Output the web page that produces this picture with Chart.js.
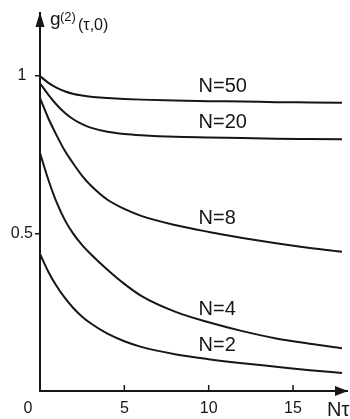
<!DOCTYPE html>
<html>
<head>
<meta charset="utf-8">
<script src="https://cdn.jsdelivr.net/npm/chart.js@4"></script>
<style>
  html, body { margin: 0; padding: 0; background: #fff; }
  #wrap { width: 350px; height: 419px; }
</style>
</head>
<body>
<div id="wrap"><canvas id="g2Chart" width="350" height="419"></canvas></div>
<script>
// N*tau sample points (shared by all curves)
const tauValues = [0, 0.5, 1, 1.5, 2, 2.5, 3, 4, 5, 6, 8, 10, 12, 14, 16, 17.9];

// g2(tau,0), one array per N
const g2N50 = [1.0, 0.978, 0.962, 0.951, 0.943, 0.938, 0.934, 0.930, 0.927, 0.925, 0.922, 0.920, 0.919, 0.917, 0.916, 0.915];
const g2N20 = [0.977, 0.940, 0.908, 0.882, 0.862, 0.847, 0.836, 0.823, 0.816, 0.812, 0.807, 0.805, 0.803, 0.801, 0.800, 0.799];
const g2N8  = [0.93, 0.865, 0.81, 0.76, 0.72, 0.683, 0.653, 0.607, 0.578, 0.556, 0.527, 0.505, 0.486, 0.469, 0.454, 0.442];
const g2N4  = [0.755, 0.67, 0.597, 0.54, 0.497, 0.463, 0.435, 0.385, 0.34, 0.302, 0.252, 0.218, 0.19, 0.167, 0.15, 0.136];
const g2N2  = [0.435, 0.378, 0.332, 0.294, 0.262, 0.236, 0.215, 0.182, 0.158, 0.14, 0.117, 0.101, 0.088, 0.077, 0.066, 0.057];

const seriesLabels = ['N=50', 'N=20', 'N=8', 'N=4', 'N=2'];
const seriesData = [g2N50, g2N20, g2N8, g2N4, g2N2];

// Axis ticks
const xTicks = [0, 5, 10, 15];
const yTicks = [0.5, 1];
const yTickLabels = ['0.5', '1'];

const INK = '#161616';
const FONT = '"Liberation Sans", Arial, sans-serif';

// Draws arrows, inward x ticks, axis titles and curve labels
const decorations = {
  id: 'decorations',
  afterDraw(chart) {
    const { ctx, chartArea, scales: { x, y } } = chart;
    const x0 = x.getPixelForValue(0);
    const y0 = y.getPixelForValue(0);
    ctx.save();
    ctx.fillStyle = INK;
    ctx.strokeStyle = INK;
    ctx.lineWidth = 1.5;

    // arrow heads
    ctx.beginPath();
    ctx.moveTo(x0, chartArea.top - 1);
    ctx.lineTo(x0 - 4.5, chartArea.top + 14);
    ctx.lineTo(x0 + 4.5, chartArea.top + 14);
    ctx.closePath();
    ctx.fill();
    ctx.beginPath();
    ctx.moveTo(chartArea.right + 1, y0);
    ctx.lineTo(chartArea.right - 12, y0 - 5);
    ctx.lineTo(chartArea.right - 12, y0 + 5);
    ctx.closePath();
    ctx.fill();

    // x ticks point up into the plot
    xTicks.filter(v => v > 0).forEach(v => {
      const px = x.getPixelForValue(v);
      ctx.beginPath();
      ctx.moveTo(px, y0);
      ctx.lineTo(px, y0 - 6);
      ctx.stroke();
    });

    // origin label
    ctx.font = `16px ${FONT}`;
    ctx.textAlign = 'center';
    ctx.textBaseline = 'alphabetic';
    ctx.fillText('0', x0 - 12, y0 + 22);

    // x title
    ctx.font = `20px ${FONT}`;
    ctx.textAlign = 'left';
    ctx.fillText('Nτ', chartArea.right - 20, y0 + 25);

    // y title g(2)(τ,0)
    ctx.font = `19px ${FONT}`;
    ctx.fillText('g', x0 + 10, 25);
    ctx.font = `13px ${FONT}`;
    ctx.fillText('(2)', x0 + 20, 21);
    ctx.font = `16px ${FONT}`;
    ctx.fillText('(τ,0)', x0 + 38, 30);

    // curve labels, placed above each curve
    ctx.font = `20px ${FONT}`;
    ctx.textAlign = 'left';
    ctx.textBaseline = 'middle';
    const labelX = x.getPixelForValue(9.4);
    chart.data.datasets.forEach((ds, i) => {
      const pts = chart.getDatasetMeta(i).data;
      let py = pts[pts.length - 1].y;
      const cx = labelX + 20;
      for (let k = 1; k < pts.length; k++) {
        if (pts[k].x >= cx) {
          const a = pts[k - 1], b = pts[k];
          py = a.y + (b.y - a.y) * (cx - a.x) / (b.x - a.x);
          break;
        }
      }
      ctx.fillText(ds.label, labelX, py - 15);
    });
    ctx.restore();
  }
};

new Chart('g2Chart', {
  type: 'line',
  data: {
    datasets: seriesData.map((vals, i) => ({
      label: seriesLabels[i],
      data: tauValues.map((t, k) => ({ x: t, y: vals[k] })),
      borderColor: INK,
      borderWidth: 2,
      pointRadius: 0,
      fill: false,
      cubicInterpolationMode: 'monotone'
    }))
  },
  options: {
    responsive: false,
    animation: false,
    devicePixelRatio: 1,
    layout: { padding: { top: 13, right: 3, left: 0, bottom: 0 } },
    plugins: {
      legend: { display: false },
      tooltip: { enabled: false }
    },
    scales: {
      x: {
        type: 'linear',
        min: 0,
        max: 18.2,
        afterBuildTicks: scale => { scale.ticks = xTicks.map(v => ({ value: v })); },
        afterFit: scale => { scale.height = 28; },
        grid: { display: false, drawTicks: false },
        border: { display: true, color: INK, width: 2 },
        ticks: {
          color: INK,
          padding: 8,
          font: { size: 16, family: FONT },
          callback: v => (v === 0 ? '' : String(v))
        }
      },
      y: {
        type: 'linear',
        min: 0,
        max: 1.2,
        afterBuildTicks: scale => { scale.ticks = yTicks.map(v => ({ value: v })); },
        afterFit: scale => { scale.width = 40; },
        grid: {
          display: true,
          drawOnChartArea: false,
          drawTicks: true,
          tickLength: 5,
          color: INK,
          lineWidth: 1.5
        },
        border: { display: true, color: INK, width: 2 },
        ticks: {
          color: INK,
          padding: 2,
          crossAlign: 'center',
          font: { size: 16, family: FONT },
          callback: v => yTickLabels[yTicks.indexOf(v)] ?? ''
        }
      }
    }
  },
  plugins: [decorations]
});
</script>
</body>
</html>
